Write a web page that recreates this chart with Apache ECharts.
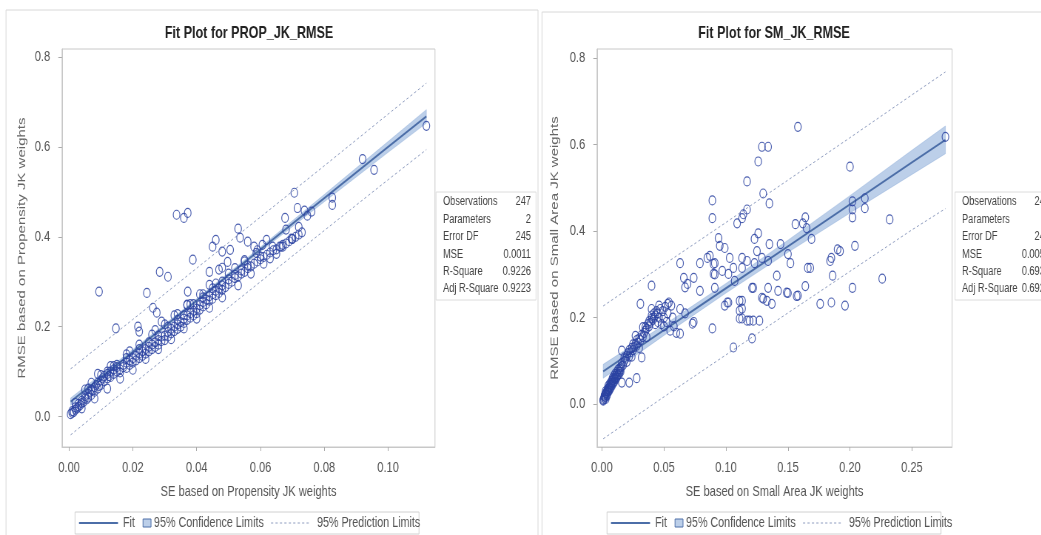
<!DOCTYPE html>
<html>
<head>
<meta charset="utf-8">
<title>Fit Plots</title>
<script src="https://cdn.jsdelivr.net/npm/echarts@6/dist/echarts.min.js"></script>
<style>
html,body{margin:0;padding:0;background:#fff;overflow:hidden;width:1041px;height:535px;}
/* 原图横向被压缩过，这里整体横向缩放来还原 */
#main{width:1407px;height:535px;transform:scaleX(0.74);transform-origin:0 0;}
</style>
</head>
<body>
<div id="main"></div>
<script>
/* 观测点 PROP_JK_RMSE: [SE, RMSE] */
var propPts = [
 [0.0005,0.005],[0.001,0.008],[0.001,0.012],[0.0015,0.010],[0.002,0.015],[0.002,0.020],[0.0025,0.018],[0.003,0.022],
 [0.003,0.028],[0.0035,0.025],[0.004,0.030],[0.004,0.035],[0.0045,0.032],[0.005,0.040],[0.005,0.045],[0.0055,0.038],
 [0.006,0.050],[0.006,0.042],[0.0065,0.055],[0.007,0.048],[0.007,0.060],[0.0075,0.058],[0.008,0.065],[0.008,0.055],
 [0.0085,0.070],[0.009,0.062],[0.009,0.075],[0.0095,0.068],[0.010,0.080],[0.010,0.070],[0.0105,0.085],[0.011,0.078],
 [0.011,0.090],[0.012,0.085],[0.012,0.095],[0.0125,0.090],[0.013,0.100],[0.013,0.088],[0.014,0.095],[0.014,0.105],
 [0.015,0.100],[0.015,0.110],[0.016,0.105],[0.016,0.098],[0.017,0.110],[0.017,0.115],[0.018,0.108],[0.018,0.120],
 [0.019,0.115],[0.019,0.125],[0.020,0.120],[0.020,0.130],[0.021,0.125],[0.021,0.135],[0.022,0.130],[0.022,0.140],
 [0.023,0.135],[0.023,0.145],[0.024,0.140],[0.024,0.150],[0.025,0.145],[0.025,0.155],[0.026,0.150],[0.026,0.160],
 [0.027,0.155],[0.027,0.165],[0.028,0.160],[0.028,0.170],[0.029,0.168],[0.029,0.178],[0.030,0.170],[0.030,0.180],
 [0.031,0.178],[0.031,0.188],[0.032,0.185],[0.032,0.195],[0.033,0.190],[0.033,0.200],[0.034,0.195],[0.034,0.205],
 [0.035,0.200],[0.035,0.210],[0.036,0.208],[0.036,0.218],[0.037,0.215],[0.037,0.225],[0.038,0.220],[0.038,0.230],
 [0.039,0.225],[0.039,0.235],[0.040,0.230],[0.040,0.240],[0.041,0.238],[0.041,0.248],[0.042,0.245],[0.042,0.255],
 [0.043,0.250],[0.043,0.260],[0.044,0.258],[0.044,0.268],[0.045,0.262],[0.045,0.272],[0.046,0.270],[0.046,0.280],
 [0.047,0.275],[0.047,0.285],[0.048,0.282],[0.048,0.292],[0.049,0.288],[0.050,0.295],[0.050,0.305],[0.051,0.300],
 [0.052,0.308],[0.052,0.315],[0.053,0.312],[0.054,0.318],[0.054,0.325],[0.055,0.322],[0.056,0.330],[0.056,0.336],
 [0.057,0.334],[0.058,0.340],[0.059,0.345],[0.060,0.350],[0.060,0.356],[0.061,0.355],[0.062,0.360],[0.063,0.365],
 [0.064,0.370],[0.065,0.372],[0.066,0.378],[0.067,0.382],[0.068,0.385],[0.069,0.390],[0.070,0.395],[0.071,0.400],
 [0.072,0.405],[0.073,0.410],
 [0.002,0.030],[0.004,0.018],[0.006,0.062],[0.008,0.040],[0.010,0.092],[0.012,0.062],[0.014,0.112],[0.016,0.084],
 [0.018,0.138],[0.020,0.104],[0.022,0.160],[0.024,0.128],[0.026,0.182],[0.028,0.150],[0.030,0.205],[0.032,0.172],
 [0.034,0.228],[0.036,0.196],[0.038,0.250],[0.040,0.218],[0.042,0.272],[0.044,0.242],[0.046,0.296],[0.048,0.265],
 [0.050,0.318],[0.053,0.292],[0.055,0.348],[0.057,0.318],[0.059,0.370],[0.061,0.340],[0.063,0.352],[0.065,0.362],
 [0.067,0.378],[0.070,0.395],[0.013,0.112],[0.019,0.145],[0.027,0.192],[0.033,0.225],[0.037,0.248],[0.041,0.272],
 [0.005,0.060],[0.007,0.075],[0.009,0.095],[0.012,0.100],[0.015,0.115],[0.018,0.130],[0.022,0.150],[0.025,0.165],
 [0.028,0.180],[0.031,0.200],[0.034,0.215],[0.036,0.225],[0.039,0.250],[0.042,0.265],[0.045,0.285],[0.048,0.300],
 [0.052,0.330],[0.055,0.345],
 [0.0094,0.278],[0.0147,0.196],[0.0216,0.200],[0.022,0.189],[0.0244,0.275],[0.0263,0.242],[0.0275,0.231],[0.029,0.211],
 [0.0284,0.322],[0.031,0.311],[0.0337,0.449],[0.036,0.442],[0.0372,0.453],[0.0372,0.278],[0.037,0.249],[0.0388,0.349],
 [0.044,0.322],[0.047,0.327],[0.0497,0.344],[0.045,0.378],[0.046,0.393],[0.048,0.367],[0.0536,0.398],[0.053,0.418],
 [0.0505,0.371],[0.056,0.389],[0.058,0.378],[0.0587,0.364],[0.0606,0.382],[0.0619,0.393],[0.0638,0.378],[0.0665,0.378],
 [0.0677,0.442],[0.068,0.416],[0.0697,0.396],[0.0706,0.498],[0.0716,0.464],[0.072,0.422],[0.0738,0.458],[0.0747,0.447],
 [0.076,0.456],[0.0825,0.487],[0.0825,0.471],[0.092,0.573],[0.0956,0.549],[0.112,0.647],[0.044,0.293],[0.048,0.331]
];

/* 观测点 SM_JK_RMSE: [SE, RMSE] */
var smPts = [
 [0.001,0.008],[0.0015,0.012],[0.002,0.018],[0.0025,0.022],[0.003,0.016],[0.003,0.030],[0.0035,0.026],[0.004,0.022],
 [0.0045,0.034],[0.005,0.030],[0.005,0.042],[0.0055,0.038],[0.006,0.046],[0.0065,0.036],[0.007,0.050],[0.0075,0.044],
 [0.008,0.055],[0.0085,0.060],[0.009,0.050],[0.0095,0.065],[0.010,0.058],[0.0105,0.070],[0.011,0.062],[0.012,0.075],
 [0.0125,0.066],[0.013,0.080],[0.014,0.070],[0.015,0.085],[0.015,0.075],
 [0.001,0.010],[0.002,0.015],[0.002,0.020],[0.003,0.012],[0.003,0.025],[0.004,0.020],[0.004,0.030],[0.005,0.028],
 [0.005,0.035],[0.006,0.032],[0.006,0.040],[0.007,0.038],[0.007,0.045],[0.008,0.042],[0.008,0.050],[0.009,0.048],
 [0.009,0.056],[0.010,0.052],[0.010,0.060],[0.011,0.058],[0.011,0.066],[0.012,0.062],[0.012,0.070],[0.013,0.068],
 [0.014,0.075],[0.014,0.082],[0.015,0.080],[0.016,0.088],[0.016,0.095],[0.017,0.090],[0.018,0.100],[0.018,0.108],
 [0.019,0.105],[0.020,0.112],[0.020,0.098],[0.021,0.118],[0.022,0.110],[0.022,0.125],[0.023,0.120],[0.024,0.130],
 [0.025,0.125],[0.025,0.138],[0.026,0.132],[0.027,0.140],[0.028,0.135],[0.028,0.148],[0.029,0.142],[0.030,0.152],
 [0.031,0.148],[0.032,0.160],[0.033,0.155],[0.034,0.165],[0.035,0.170],[0.035,0.178],[0.036,0.175],[0.037,0.185],
 [0.038,0.180],[0.038,0.192],[0.039,0.188],[0.040,0.198],[0.040,0.205],[0.041,0.195],[0.042,0.200],[0.042,0.210],
 [0.043,0.205],[0.044,0.215],[0.045,0.190],[0.045,0.210],[0.046,0.200],[0.047,0.220],[0.048,0.185],[0.049,0.215],
 [0.050,0.200],[0.051,0.225],[0.052,0.190],[0.053,0.210],[0.055,0.170],[0.057,0.200],[0.058,0.180],[0.060,0.165],
 [0.016,0.050],[0.022,0.050],[0.028,0.060],[0.032,0.108],[0.016,0.124],
 [0.024,0.110],[0.027,0.158],[0.030,0.130],[0.033,0.178],[0.036,0.155],[0.040,0.220],[0.043,0.185],[0.046,0.228],
 [0.050,0.180],[0.053,0.232],
 [0.040,0.274],[0.031,0.232],[0.063,0.326],[0.079,0.326],[0.087,0.343],[0.091,0.326],[0.066,0.292],[0.069,0.278],
 [0.067,0.270],[0.074,0.292],[0.079,0.262],[0.054,0.235],[0.056,0.228],[0.063,0.220],[0.067,0.210],[0.074,0.190],
 [0.063,0.163],[0.089,0.175],[0.091,0.300],[0.099,0.228],[0.101,0.235],[0.107,0.285],[0.111,0.239],[0.113,0.221],
 [0.111,0.198],[0.117,0.193],[0.122,0.193],[0.127,0.193],[0.121,0.152],[0.106,0.131],[0.122,0.269],[0.134,0.269],
 [0.142,0.262],[0.150,0.257],[0.157,0.250],[0.129,0.246],[0.133,0.239],[0.137,0.232],[0.164,0.273],[0.168,0.315],
 [0.176,0.232],[0.185,0.235],[0.186,0.297],[0.196,0.228],[0.202,0.269],[0.226,0.290],[0.184,0.331],[0.141,0.297],
 [0.158,0.641],[0.129,0.595],[0.134,0.595],[0.126,0.561],[0.117,0.515],[0.089,0.471],[0.089,0.430],[0.130,0.487],
 [0.135,0.464],[0.109,0.418],[0.113,0.430],[0.117,0.450],[0.114,0.439],[0.200,0.549],[0.202,0.450],[0.212,0.453],
 [0.202,0.432],[0.164,0.432],[0.162,0.418],[0.156,0.416],[0.165,0.407],[0.169,0.382],[0.123,0.382],[0.126,0.395],
 [0.094,0.384],[0.095,0.366],[0.099,0.361],[0.103,0.338],[0.113,0.338],[0.125,0.354],[0.135,0.370],[0.144,0.370],
 [0.150,0.347],[0.152,0.326],[0.166,0.315],[0.185,0.338],[0.192,0.354],[0.204,0.366],[0.085,0.338],[0.090,0.324],
 [0.090,0.301],[0.097,0.308],[0.102,0.301],[0.106,0.315],[0.113,0.315],[0.117,0.331],[0.123,0.326],[0.129,0.338],
 [0.134,0.331],[0.091,0.269],[0.102,0.235],[0.113,0.239],[0.121,0.269],[0.130,0.244],[0.149,0.258],[0.158,0.251],
 [0.111,0.216],[0.113,0.198],[0.119,0.193],[0.073,0.186],[0.232,0.427],[0.212,0.476],[0.202,0.469],[0.190,0.358],
 [0.277,0.618]
];

/* 拟合线与 95% 置信/预测界限（在若干 x 处读取） */
var propLimX = [0.0005,0.02,0.04,0.06,0.08,0.10,0.112];
var propFit  = [0.033,0.144,0.258,0.372,0.486,0.600,0.668];
var propCLlo = [0.025,0.139,0.254,0.367,0.478,0.588,0.653];
var propCLhi = [0.041,0.149,0.262,0.377,0.494,0.612,0.683];
var propPLlo = [-0.041,0.072,0.186,0.300,0.414,0.527,0.594];
var propPLhi = [0.106,0.216,0.330,0.444,0.558,0.673,0.742];

var smLimX = [0.001,0.05,0.10,0.15,0.20,0.25,0.277];
var smFit  = [0.076,0.171,0.268,0.365,0.462,0.559,0.611];
var smCLlo = [0.060,0.159,0.257,0.351,0.442,0.531,0.579];
var smCLhi = [0.092,0.183,0.279,0.379,0.482,0.587,0.643];
var smPLlo = [-0.080,0.017,0.114,0.211,0.307,0.403,0.452];
var smPLhi = [0.227,0.323,0.420,0.518,0.616,0.715,0.768];

/* 坐标刻度 */
var propXTicks = [0,0.02,0.04,0.06,0.08,0.10];
var smXTicks = [0,0.05,0.10,0.15,0.20,0.25];
var yTicks = [0,0.2,0.4,0.6,0.8];

/* 拟合统计表 */
var statLabels = ["Observations","Parameters","Error DF","MSE","R-Square","Adj R-Square"];
var propStats = ["247","2","245","0.0011","0.9226","0.9223"];
var smStats = ["247","2","245","0.0059","0.6934","0.6921"];

var S = 0.74;   //横向压缩比例
function sx(v){ return v / S; }   //屏幕横坐标 -> 画布横坐标

var FONT = "'Liberation Sans',Arial,sans-serif";
var ptColor = '#2b43a2', fitColor = '#4c6ea8', bandColor = 'rgba(122,160,212,0.5)', predColor = '#8e9cbf';

function zip(xs, ys){
    var out = [];
    for(var i=0;i<xs.length;i++){ out.push([xs[i], ys[i]]); }
    return out;
}

function xAxisFor(idx, min, max, ticks, name){
    return {
        gridIndex: idx, type: 'value', min: min, max: max,
        name: name, nameLocation: 'middle', nameGap: 37,
        nameTextStyle: {fontFamily: FONT, fontSize: 15, color: '#555'},
        axisLine: {show: true, onZero: false, lineStyle: {color: '#c8c8c8'}},
        axisTick: {show: true, length: 4, customValues: ticks, lineStyle: {color: '#aaa'}},
        axisLabel: {customValues: ticks, margin: 13, fontFamily: FONT, fontSize: 15, color: '#555',
            formatter: function(v){ return v.toFixed(2); }},
        splitLine: {show: false}
    };
}

function yAxisFor(idx, min, max, name, gap){
    return {
        gridIndex: idx, type: 'value', min: min, max: max,
        name: name, nameLocation: 'middle', nameGap: gap, nameRotate: 90,
        nameTextStyle: {fontFamily: FONT, fontSize: 15, color: '#666'},
        axisLine: {show: true, onZero: false, lineStyle: {color: '#c8c8c8'}},
        axisTick: {show: true, length: 5, customValues: yTicks, lineStyle: {color: '#aaa'}},
        axisLabel: {customValues: yTicks, margin: 16, fontFamily: FONT, fontSize: 15, color: '#555',
            formatter: function(v){ return v.toFixed(1); }},
        splitLine: {show: false}
    };
}

/* 置信带：用多边形画在坐标系里 */
function bandSeries(idx, xs, lo, hi){
    return {
        type: 'custom', xAxisIndex: idx, yAxisIndex: idx, silent: true, z: 1,
        data: [[xs[0], lo[0]]],
        renderItem: function(params, api){
            var pts = [];
            for(var i=0;i<xs.length;i++){ pts.push(api.coord([xs[i], hi[i]])); }
            for(var j=xs.length-1;j>=0;j--){ pts.push(api.coord([xs[j], lo[j]])); }
            return {type: 'polygon', shape: {points: pts}, style: {fill: bandColor, stroke: 'rgba(122,160,212,0.7)', lineWidth: 0.5}};
        }
    };
}

function lineSeries(idx, data, color, width, dashed, z){
    return {
        type: 'line', xAxisIndex: idx, yAxisIndex: idx, data: data, silent: true,
        showSymbol: false, symbol: 'none', z: z,
        lineStyle: {color: color, width: width, type: dashed ? [3,3] : 'solid'}
    };
}

function scatterSeries(idx, data){
    return {
        type: 'scatter', xAxisIndex: idx, yAxisIndex: idx, data: data, silent: true, z: 5,
        symbol: 'circle', symbolSize: 9,
        itemStyle: {color: 'rgba(0,0,0,0)', borderColor: ptColor, borderWidth: 1.2, opacity: 0.85}
    };
}

function statTable(x0, vals){
    var f = '12.5px ' + FONT;
    var kids = [{type: 'rect', shape: {x: 0, y: 0, width: sx(100), height: 108}, style: {fill: '#fff', stroke: '#dcdcdc'}}];
    for(var i=0;i<statLabels.length;i++){
        kids.push({type: 'text', x: sx(7), y: 10 + i*17.4, style: {text: statLabels[i], font: f, fill: '#444', verticalAlign: 'middle'}});
        kids.push({type: 'text', x: sx(95), y: 10 + i*17.4, style: {text: vals[i], font: f, fill: '#444', align: 'right', verticalAlign: 'middle'}});
    }
    return {type: 'group', x: sx(x0), y: 192, children: kids};
}

function legendBox(x0, w){
    var f = '14.5px ' + FONT;
    return {type: 'group', x: sx(x0), y: 512, children: [
        {type: 'rect', shape: {x: 0, y: 0, width: sx(w), height: 22}, style: {fill: '#fff', stroke: '#d0d0d0'}},
        {type: 'line', shape: {x1: sx(4), y1: 11, x2: sx(43), y2: 11}, style: {stroke: fitColor, lineWidth: 2}},
        {type: 'text', x: sx(48), y: 11, style: {text: 'Fit', font: f, fill: '#555', verticalAlign: 'middle'}},
        {type: 'rect', shape: {x: sx(68), y: 7, width: sx(8), height: 8}, style: {fill: bandColor, stroke: fitColor, lineWidth: 1}},
        {type: 'text', x: sx(79), y: 11, style: {text: '95% Confidence Limits', font: f, fill: '#555', verticalAlign: 'middle'}},
        {type: 'line', shape: {x1: sx(196), y1: 11, x2: sx(234), y2: 11}, style: {stroke: predColor, lineWidth: 1, lineDash: [3,3]}},
        {type: 'text', x: sx(242), y: 11, style: {text: '95% Prediction Limits', font: f, fill: '#555', verticalAlign: 'middle'}}
    ]};
}

var myChart = echarts.init(document.getElementById('main'), null, {renderer: 'canvas'});
myChart.setOption({
    animation: false,
    backgroundColor: '#fff',
    grid: [
        {left: sx(62), top: 49, width: sx(373), height: 398, show: true, borderColor: '#c8c8c8', backgroundColor: '#fff'},
        {left: sx(597), top: 49, width: sx(355), height: 398, show: true, borderColor: '#c8c8c8', backgroundColor: '#fff'}
    ],
    xAxis: [
        xAxisFor(0, -0.0022, 0.1147, propXTicks, 'SE based on Propensity JK weights'),
        xAxisFor(1, -0.004, 0.2823, smXTicks, 'SE based on Small Area JK weights')
    ],
    yAxis: [
        yAxisFor(0, -0.068, 0.818, 'RMSE based on Propensity JK weights', 46),
        yAxisFor(1, -0.099, 0.821, 'RMSE based on Small Area JK weights', 49)
    ],
    graphic: [
        {type: 'rect', shape: {x: sx(6), y: 10, width: sx(532), height: 540}, style: {fill: 'none', stroke: '#d8d8d8'}},
        {type: 'rect', shape: {x: sx(542), y: 12, width: sx(520), height: 540}, style: {fill: 'none', stroke: '#d8d8d8'}},
        {type: 'text', x: sx(249), y: 33, style: {text: 'Fit Plot for PROP_JK_RMSE', font: 'bold 17px ' + FONT, fill: '#222', align: 'center', verticalAlign: 'middle'}},
        {type: 'text', x: sx(774), y: 33, style: {text: 'Fit Plot for SM_JK_RMSE', font: 'bold 17px ' + FONT, fill: '#222', align: 'center', verticalAlign: 'middle'}},
        statTable(436, propStats),
        statTable(955, smStats),
        legendBox(75, 344),
        legendBox(607, 334)
    ],
    series: [
        bandSeries(0, propLimX, propCLlo, propCLhi),
        lineSeries(0, zip(propLimX, propPLlo), predColor, 1, true, 2),
        lineSeries(0, zip(propLimX, propPLhi), predColor, 1, true, 2),
        lineSeries(0, zip(propLimX, propFit), fitColor, 2, false, 3),
        scatterSeries(0, propPts),
        bandSeries(1, smLimX, smCLlo, smCLhi),
        lineSeries(1, zip(smLimX, smPLlo), predColor, 1, true, 2),
        lineSeries(1, zip(smLimX, smPLhi), predColor, 1, true, 2),
        lineSeries(1, zip(smLimX, smFit), fitColor, 2, false, 3),
        scatterSeries(1, smPts)
    ]
});
</script>
</body>
</html>
